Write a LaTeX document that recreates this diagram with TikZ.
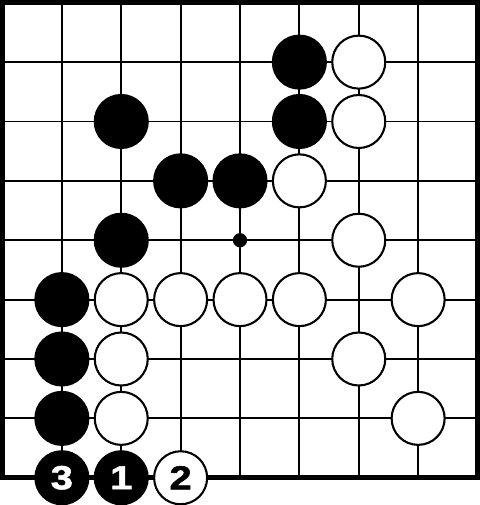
\documentclass[tikz,border=0pt]{standalone}
\usepackage{fontspec}
\newfontfamily\stonefont[FakeStretch=1.2,FakeBold=1.5]{Liberation Sans}
\usepackage{tikz}

\begin{document}
\begin{tikzpicture}[x=1cm,y=-1cm]
\tikzset{black stone/.style = {shape=circle,draw,fill=black,line width=1pt,
inner sep=0pt,minimum size=0.893cm}}
\tikzset{white stone/.style = {shape=circle,draw,fill=white,line width=1pt,
inner sep=0pt,minimum size=0.893cm}}
\tikzset{move/.style = {font=\stonefont\bfseries\fontsize{16}{16}\selectfont}}
\useasboundingbox (-0.042,-0.046) rectangle (8.042,8.459);
% board
\draw[line width=0.9pt] (0,0) grid (8,8);
\draw[line width=2.2pt] (0,0) rectangle (8,8);
\node[shape=circle,fill,inner sep=0pt,minimum size=0.24cm] (mark) at (4,4) {};
% black stones
\node[black stone] (b1) at (5,1) {};
\node[black stone] (b2) at (2,2) {};
\node[black stone] (b3) at (5,2) {};
\node[black stone] (b4) at (3,3) {};
\node[black stone] (b5) at (4,3) {};
\node[black stone] (b6) at (2,4) {};
\node[black stone] (b7) at (1,5) {};
\node[black stone] (b8) at (1,6) {};
\node[black stone] (b9) at (1,7) {};
% white stones
\node[white stone] (w1) at (6,1) {};
\node[white stone] (w2) at (6,2) {};
\node[white stone] (w3) at (5,3) {};
\node[white stone] (w4) at (6,4) {};
\node[white stone] (w5) at (2,5) {};
\node[white stone] (w6) at (3,5) {};
\node[white stone] (w7) at (4,5) {};
\node[white stone] (w8) at (5,5) {};
\node[white stone] (w9) at (7,5) {};
\node[white stone] (w10) at (2,6) {};
\node[white stone] (w11) at (6,6) {};
\node[white stone] (w12) at (2,7) {};
\node[white stone] (w13) at (7,7) {};
% moves
\node[black stone,move,text=white] (m1) at (2,8) {1};
\node[white stone,move] (m2) at (3,8) {2};
\node[black stone,move,text=white] (m3) at (1,8) {3};
\end{tikzpicture}
\end{document}
